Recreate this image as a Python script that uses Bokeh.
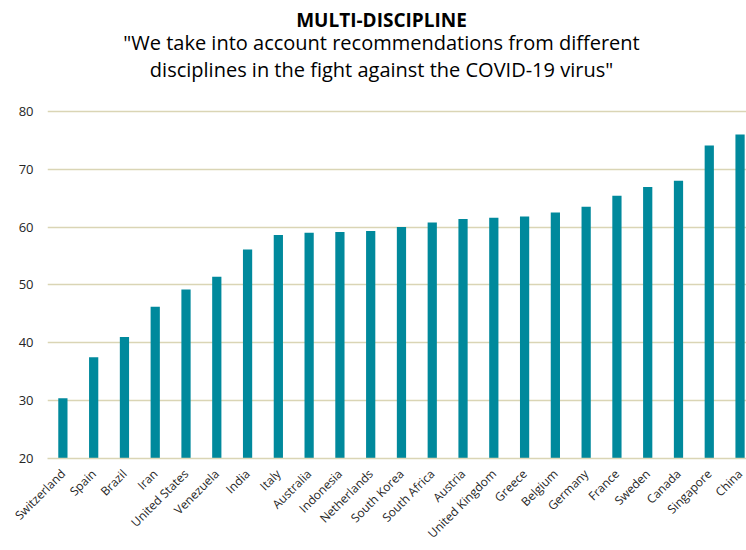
from bokeh.plotting import figure
from bokeh.models import ColumnDataSource, Range1d, FixedTicker, Label
from bokeh.embed import file_html
from bokeh.resources import INLINE
import math

# Survey scores per country, sorted ascending
countries = ["Switzerland", "Spain", "Brazil", "Iran", "United States", "Venezuela",
             "India", "Italy", "Australia", "Indonesia", "Netherlands", "South Korea",
             "South Africa", "Austria", "United Kingdom", "Greece", "Belgium", "Germany",
             "France", "Sweden", "Canada", "Singapore", "China"]
scores = [30.4, 37.5, 41.0, 46.2, 49.2, 51.4, 56.1, 58.6, 59.0, 59.15, 59.3, 60.0,
          60.8, 61.4, 61.6, 61.8, 62.5, 63.5, 65.4, 66.9, 68.0, 74.1, 76.0]
y_ticks = [20, 30, 40, 50, 60, 70, 80]

title_text = "MULTI-DISCIPLINE"
subtitle_lines = ['"We take into account recommendations from different',
                  'disciplines in the fight against the COVID-19 virus"']

BAR = "#00899C"
GRID = "#DAD5B5"
TEXT = "#262626"
FONT = "Open Sans"

W, H = 746, 550
LEFT, BOTTOM = 47, 91
frame_w = W - LEFT
frame_h = H - BOTTOM          # the frame runs up to the top edge; headings sit inside it
px_per_cat = 30.78
y_lo = 20
px_per_unit = 5.8

x_end = -0.5 + frame_w / px_per_cat
y_end = y_lo + frame_h / px_per_unit

source = ColumnDataSource(data=dict(x=list(range(len(countries))), top=scores))

p = figure(width=W, height=H, output_backend="svg", toolbar_location=None,
           x_range=Range1d(-0.5, x_end), y_range=Range1d(y_lo, y_end),
           min_border_left=LEFT, min_border_right=0,
           min_border_top=0, min_border_bottom=BOTTOM)
p.outline_line_color = None
p.background_fill_color = "white"
p.border_fill_color = "white"

p.vbar(x="x", top="top", bottom=y_lo, width=0.30, source=source,
       fill_color=BAR, line_color=None)

# axes
p.xaxis.ticker = FixedTicker(ticks=list(range(len(countries))))
p.xaxis.major_label_overrides = {i: c for i, c in enumerate(countries)}
p.xaxis.major_label_orientation = math.pi / 4
p.xaxis.major_tick_out = 0
p.xaxis.major_tick_in = 0
p.xaxis.minor_tick_out = 0
p.xaxis.minor_tick_in = 0
p.xaxis.axis_line_color = GRID
p.xaxis.axis_line_width = 1.5
p.xaxis.major_label_text_font = FONT
p.xaxis.major_label_text_font_size = "12px"
p.xaxis.major_label_text_color = TEXT
p.xaxis.major_label_standoff = 13

p.yaxis.ticker = FixedTicker(ticks=y_ticks)
p.yaxis.axis_line_color = None
p.yaxis.major_tick_out = 0
p.yaxis.major_tick_in = 0
p.yaxis.minor_tick_out = 0
p.yaxis.minor_tick_in = 0
p.yaxis.major_label_text_font = FONT
p.yaxis.major_label_text_font_size = "13px"
p.yaxis.major_label_text_color = TEXT
p.yaxis.major_label_standoff = 14

p.xgrid.grid_line_color = None
p.ygrid.ticker = FixedTicker(ticks=y_ticks[1:])
p.ygrid.grid_line_color = GRID
p.ygrid.grid_line_width = 1.5


def to_x(px):
    return -0.5 + (px - LEFT) / px_per_cat


def to_y(py):
    return y_lo + (frame_h - py) / px_per_unit


cx = to_x(381)
p.add_layout(Label(x=cx, y=to_y(20), text=title_text, text_align="center",
                   text_baseline="alphabetic", text_font=FONT, text_font_style="bold",
                   text_font_size="19px", text_color="#000000"))
for line, base in zip(subtitle_lines, [42, 69]):
    p.add_layout(Label(x=cx, y=to_y(base), text=line, text_align="center",
                       text_baseline="alphabetic", text_font=FONT,
                       text_font_size="20px", text_color="#000000"))

open("out.html", "w").write(file_html(p, INLINE))
